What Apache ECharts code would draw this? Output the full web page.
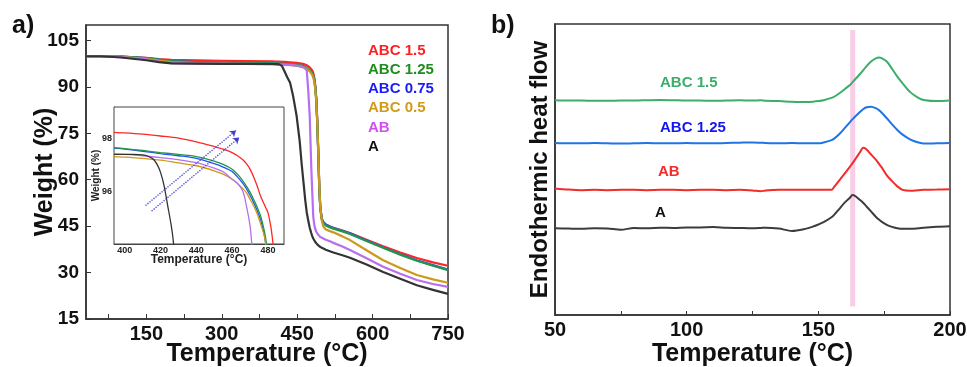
<!DOCTYPE html>
<html>
<head>
<meta charset="utf-8">
<script src="https://cdn.jsdelivr.net/npm/echarts@6.0.0/dist/echarts.min.js"></script>
<style>
  html, body { margin: 0; padding: 0; background: #fff; }
  #chart { width: 967px; height: 367px; }
</style>
</head>
<body>
<div id="chart"></div>
<script>
// ---- TGA (panel a) ----
const tgaTemp = [30, 60, 100, 150, 175, 200, 250, 300, 350, 400, 410, 415, 420, 425, 430, 436, 442, 449, 455, 459,
  463, 466, 469, 472, 475, 478, 480, 482, 484, 486, 488, 490, 492, 494, 496, 499, 502, 507, 515, 522,
  540, 555, 588, 621, 655, 688, 720, 750]
const tgaABC15 = [99.9, 99.9, 99.8, 99.4, 99.0, 98.7, 98.55, 98.45, 98.35, 98.22, 98.17, 98.14, 98.1, 98.06, 98.02, 97.95, 97.86, 97.74, 97.6, 97.5,
  97.38, 97.2, 97.0, 96.7, 96.3, 95.8, 95.3, 94.5, 93.0, 90.5, 86.5, 79, 69, 58, 51, 47.4, 46.3, 45.5, 44.9, 44.5,
  43.6, 42.8, 40.6, 38.5, 36.5, 34.7, 33.3, 32.2]
const tgaABC125 = [99.9, 99.9, 99.8, 99.3, 98.8, 98.3, 98.0, 97.85, 97.75, 97.62, 97.55, 97.51, 97.47, 97.43, 97.4, 97.35, 97.28, 97.15, 97.0, 96.86,
  96.7, 96.45, 96.1, 95.75, 95.35, 94.8, 94.3, 93.6, 92.5, 90.0, 86.0, 78.5, 68.5, 57.5, 51, 47.2, 46.0, 45.2, 44.6, 44.2,
  43.3, 42.5, 40.2, 38.0, 35.8, 33.8, 32.2, 30.8]
const tgaABC075 = [99.9, 99.9, 99.8, 99.3, 98.8, 98.3, 98.0, 97.85, 97.72, 97.6, 97.52, 97.48, 97.43, 97.39, 97.35, 97.3, 97.22, 97.07, 96.9, 96.76,
  96.6, 96.35, 96.0, 95.65, 95.25, 94.7, 94.2, 93.5, 92.3, 89.8, 85.8, 78.3, 68.3, 57.3, 51.0, 47.4, 46.3, 45.5, 44.9, 44.4,
  43.5, 42.7, 40.4, 38.1, 35.9, 34.0, 32.4, 31.0]
const tgaABC05 = [99.9, 99.9, 99.7, 99.1, 98.5, 98.0, 97.7, 97.55, 97.45, 97.3, 97.25, 97.22, 97.18, 97.13, 97.08, 97.02, 96.93, 96.76, 96.62, 96.48,
  96.3, 96.1, 95.8, 95.45, 95.0, 94.4, 93.8, 93.0, 91.6, 89.2, 85.5, 78.5, 69, 58, 51, 46.8, 44.9, 43.9, 43.4, 43.0,
  41.7, 40.5, 37.2, 34.0, 31.5, 29.2, 27.8, 26.7]
const tgaAB = [99.9, 99.9, 99.6, 98.9, 98.2, 97.7, 97.55, 97.5, 97.45, 97.4, 97.35, 97.32, 97.28, 97.24, 97.2, 97.14, 97.05, 96.9, 96.74, 96.55,
  96.35, 96.0, 95.4, 89, 80.5, 64.3, 56, 48.1, 45.5, 44.0, 43.2, 42.7, 42.2, 41.8, 41.5, 41.2, 41.0, 40.6, 40.1, 39.6,
  38.4, 37.3, 34.6, 31.9, 29.6, 27.6, 26.3, 25.4]
const tgaA = [99.9, 99.9, 99.5, 98.6, 98.0, 97.6, 97.5, 97.45, 97.42, 97.4, 97.38, 97.28, 96.7, 95.0, 93.2, 91.3, 87.0, 80.5, 72.5, 65.0,
  58.5, 53.5, 49.5, 46.8, 44.5, 42.8, 41.8, 41.0, 40.4, 39.9, 39.5, 39.1, 38.8, 38.5, 38.3, 38.0, 37.8, 37.4, 36.9, 36.5,
  35.6, 34.8, 32.6, 30.2, 28.0, 25.9, 24.4, 23.1]
const tgaXTicks = [75, 150, 225, 300, 375, 450, 525, 600, 675, 750]
const tgaXLabels = [150, 300, 450, 600, 750]
const tgaYLabels = [15, 30, 45, 60, 75, 90, 105]

// ---- inset (zoom of the onset) ----
const insetTempABC = [394, 400, 410, 420, 430, 440, 450, 455, 460, 463, 466, 468, 470, 472, 474, 476, 478, 479, 480, 481, 482, 483, 485]
const insetABC15 = [98.24, 98.22, 98.17, 98.1, 98.02, 97.88, 97.7, 97.6, 97.47, 97.35, 97.2, 97.05, 96.84, 96.55, 96.2, 95.8, 95.5, 95.35, 95.2, 94.9, 94.5, 93.9, 92.0]
const insetABC125 = [97.66, 97.62, 97.55, 97.47, 97.4, 97.32, 97.15, 97.02, 96.84, 96.65, 96.4, 96.2, 95.97, 95.7, 95.4, 95.05, 94.5, 94.1, 93.5, 92.8, 92, 91, 89]
const insetABC075 = [97.64, 97.6, 97.52, 97.43, 97.35, 97.25, 97.05, 96.92, 96.75, 96.55, 96.3, 96.1, 95.85, 95.58, 95.27, 94.9, 94.35, 93.9, 93.4, 92.7, 92, 91, 89]
const insetABC05 = [97.32, 97.3, 97.25, 97.18, 97.08, 96.97, 96.78, 96.65, 96.46, 96.3, 96.1, 95.95, 95.7, 95.45, 95.15, 94.75, 94.3, 93.9, 93.4, 92.7, 92, 91, 89]
const insetTempAB = [394, 400, 410, 420, 430, 440, 450, 455, 460, 463, 466, 468, 470, 471, 472]
const insetAB = [97.42, 97.4, 97.35, 97.28, 97.2, 97.09, 96.88, 96.74, 96.46, 96.3, 96.0, 95.45, 94.7, 94.0, 93.0]
const insetTempA = [394, 400, 405, 410, 413, 416, 418, 420, 422, 424, 426, 427, 428]
const insetA = [97.4, 97.4, 97.4, 97.38, 97.33, 97.22, 97.03, 96.72, 96.21, 95.46, 94.7, 94.2, 93.5]
const insetArrowFrom = [[411.6, 95.46], [415.0, 95.25]]
const insetArrowTo = [[462.2, 98.31], [464.0, 98.04]]
const insetXLabels = [400, 420, 440, 460, 480]
const insetYLabels = [96, 98]

// ---- DSC (panel b) ----
const dscTemp = [50, 55, 60, 65, 70, 75, 80, 85, 90, 95, 100, 105, 110, 115, 120, 125, 128, 130, 135, 140,
  145, 148, 150, 152, 155, 156, 158, 160, 162, 163, 164, 166, 167, 168, 170, 172, 173, 174, 176, 178,
  180, 182, 185, 188, 190, 195, 200]
const dscABC15 = [73.8, 73.7, 73.7, 73.6, 73.6, 73.7, 73.7, 73.8, 73.9, 73.8, 73.7, 73.7, 73.6, 73.7, 73.8, 73.7, 73.8, 73.6, 73.5, 73.3,
  73.2, 73.3, 73.5, 73.8, 74.6, 75.0, 76.2, 77.6, 79.0, 80.0, 81.0, 83.0, 84.1, 85.2, 87.1, 88.3, 88.5, 88.3, 87.1, 84.6,
  81.9, 79.6, 76.5, 74.6, 73.9, 73.5, 73.7]
const dscABC125 = [59.1, 59.0, 59.0, 59.1, 59.0, 58.9, 59.0, 59.1, 59.0, 59.0, 59.1, 59.0, 59.0, 59.1, 59.2, 59.3, 59.2, 59.1, 59.0, 59.1,
  59.0, 59.0, 59.0, 59.3, 60.1, 60.6, 62.2, 64.2, 66.3, 67.3, 68.2, 69.9, 70.7, 71.3, 71.6, 71.0, 70.4, 69.6, 67.6, 65.5,
  63.6, 62.0, 60.3, 59.3, 58.9, 59.0, 59.1]
const dscAB = [43.5, 43.1, 42.9, 43.0, 42.9, 43.0, 43.0, 42.9, 43.0, 43.0, 42.9, 43.0, 43.0, 42.9, 43.0, 42.8, 42.5, 42.8, 43.0, 43.0,
  43.0, 43.0, 43.0, 43.0, 43.0, 44.0, 46.3, 48.6, 51.0, 52.2, 53.5, 56.2, 57.5, 57.1, 55.2, 53.2, 52.0, 50.8, 48.0, 46.0,
  44.2, 43.0, 42.7, 42.9, 43.0, 43.1, 43.2]
const dscA = [29.8, 29.7, 29.6, 29.8, 29.7, 29.3, 29.9, 29.8, 30.0, 29.9, 30.1, 30.1, 30.2, 30.0, 29.9, 29.8, 29.9, 30.0, 29.7, 28.9,
  29.6, 30.4, 31.1, 31.9, 33.6, 34.4, 36.5, 38.6, 40.3, 41.2, 40.9, 39.4, 38.6, 37.6, 35.6, 33.6, 32.8, 32.1, 31.0, 30.3,
  29.8, 29.6, 29.6, 29.8, 30.0, 30.3, 30.5]
const dscBand = [162.1, 164.0]
const dscBandY = [2.9, 97.9]

const font = 'Liberation Sans, Arial, sans-serif'

const tgaStyles = [
  { name: 'ABC 1.5', y: tgaABC15, ins: insetABC15, it: insetTempABC, color: '#ff2626', text: '#ff1f1f' },
  { name: 'ABC 1.25', y: tgaABC125, ins: insetABC125, it: insetTempABC, color: '#23954a', text: '#1e8c1e' },
  { name: 'ABC 0.75', y: tgaABC075, ins: insetABC075, it: insetTempABC, color: '#1e58f0', text: '#1a1aff' },
  { name: 'ABC 0.5', y: tgaABC05, ins: insetABC05, it: insetTempABC, color: '#cc9a1a', text: '#d19a1c' },
  { name: 'AB', y: tgaAB, ins: insetAB, it: insetTempAB, color: '#b86ef0', text: '#d24ef2' },
  { name: 'A', y: tgaA, ins: insetA, it: insetTempA, color: '#333333', text: '#111111' }
]
const dscStyles = [
  { name: 'ABC 1.5', y: dscABC15, color: '#3aae6a', text: '#3aae6a', lx: 660, ly: 83 },
  { name: 'ABC 1.25', y: dscABC125, color: '#1f74e6', text: '#1515f0', lx: 660, ly: 128 },
  { name: 'AB', y: dscAB, color: '#f22b2b', text: '#f22b2b', lx: 658, ly: 172 },
  { name: 'A', y: dscA, color: '#3c3c3c', text: '#111111', lx: 655, ly: 213 }
]

function pairs(xs, ys) {
  return xs.map((x, i) => [x, ys[i]])
}

const drawOrder = [0, 2, 1, 3, 4, 5]
const series = []

drawOrder.forEach(i => {
  const s = tgaStyles[i]
  series.push({
    type: 'line', xAxisIndex: 0, yAxisIndex: 0, showSymbol: false,
    smooth: false, z: 3,
    data: pairs(tgaTemp, s.y),
    lineStyle: { color: s.color, width: 2.2, join: 'round' }
  })
  series.push({
    type: 'line', xAxisIndex: 1, yAxisIndex: 1, showSymbol: false,
    smooth: 0.3, z: 4,
    data: pairs(s.it, s.ins),
    lineStyle: { color: s.color, width: 1.3 }
  })
})

// dotted arrows in the inset
series.push({
  type: 'line', xAxisIndex: 1, yAxisIndex: 1, data: [], z: 5,
  markLine: {
    silent: true,
    symbol: ['none', 'arrow'],
    symbolSize: 6,
    label: { show: false },
    lineStyle: { type: 'dotted', color: '#3f3fd0', width: 1.3 },
    data: insetArrowFrom.map((p, i) => [{ coord: p }, { coord: insetArrowTo[i] }])
  }
})

// pink band in the DSC panel
series.push({
  type: 'line', xAxisIndex: 2, yAxisIndex: 2, data: [], z: 1,
  markArea: {
    silent: true,
    itemStyle: { color: '#f9cde6', opacity: 1 },
    data: [[{ coord: [dscBand[0], dscBandY[0]] }, { coord: [dscBand[1], dscBandY[1]] }]]
  }
})

dscStyles.forEach(s => {
  series.push({
    type: 'line', xAxisIndex: 2, yAxisIndex: 2, showSymbol: false,
    smooth: 0.3, z: 3,
    data: pairs(dscTemp, s.y),
    lineStyle: { color: s.color, width: 2 }
  })
})

const graphic = [
  { type: 'text', left: 12, top: 14, style: { text: 'a)', font: 'bold 25px ' + font, fill: '#111' } },
  { type: 'text', left: 491, top: 14, style: { text: 'b)', font: 'bold 25px ' + font, fill: '#111' } }
]
tgaStyles.forEach((s, i) => {
  graphic.push({
    type: 'text', x: 368, y: 50.7 + i * 19.2,
    style: { text: s.name, font: 'bold 15px ' + font, fill: s.text, verticalAlign: 'middle' }
  })
})
dscStyles.forEach(s => {
  graphic.push({
    type: 'text', x: s.lx, y: s.ly,
    style: { text: s.name, font: 'bold 15px ' + font, fill: s.text, verticalAlign: 'middle' }
  })
})

const axisLine = { show: true, lineStyle: { color: '#333', width: 1.5 } }
const bigLabel = { fontSize: 20, fontWeight: 'bold', color: '#111', fontFamily: font }
const bigName = { fontSize: 25, fontWeight: 'bold', color: '#111', fontFamily: font }
const smallLabel = { fontSize: 9, fontWeight: 'bold', color: '#222', fontFamily: font }

const option = {
  animation: false,
  backgroundColor: '#fff',
  grid: [
    { left: 86, top: 25, width: 362, height: 294, show: true, borderColor: '#333', borderWidth: 1.5, outerBoundsMode: 'none' },
    { left: 114, top: 107, width: 170, height: 137, show: true, borderColor: '#444', borderWidth: 1, backgroundColor: '#fff', z: 2, outerBoundsMode: 'none' },
    { left: 555, top: 24, width: 395, height: 291, show: true, borderColor: '#333', borderWidth: 1.5, outerBoundsMode: 'none' }
  ],
  xAxis: [
    {
      gridIndex: 0, type: 'value', min: 30, max: 750,
      axisLine,
      axisTick: { inside: true, length: 5, customValues: tgaXTicks, lineStyle: { color: '#333' } },
      axisLabel: { ...bigLabel, margin: 5, customValues: tgaXLabels },
      splitLine: { show: false },
      name: 'Temperature (°C)', nameLocation: 'middle', nameGap: 23, nameMoveOverlap: false, nameTextStyle: bigName
    },
    {
      gridIndex: 1, type: 'value', min: 394, max: 489,
      axisLine: { show: true, lineStyle: { color: '#444', width: 1 } },
      axisTick: { inside: true, length: 3, customValues: [400, 410, 420, 430, 440, 450, 460, 470, 480], lineStyle: { color: '#444' } },
      axisLabel: { ...smallLabel, margin: 2, customValues: insetXLabels },
      splitLine: { show: false },
      name: 'Temperature (°C)', nameLocation: 'middle', nameGap: 10, nameMoveOverlap: false,
      nameTextStyle: { fontSize: 12, fontWeight: 'bold', color: '#222', fontFamily: font }
    },
    {
      gridIndex: 2, type: 'value', min: 50, max: 200, interval: 50,
      axisLine,
      axisTick: { inside: true, length: 4, lineStyle: { color: '#333' } },
      minorTick: { show: true, splitNumber: 2, length: 4, lineStyle: { color: '#333' } },
      axisLabel: { ...bigLabel, margin: 5 },
      splitLine: { show: false },
      name: 'Temperature (°C)', nameLocation: 'middle', nameGap: 27, nameMoveOverlap: false, nameTextStyle: bigName
    }
  ],
  yAxis: [
    {
      gridIndex: 0, type: 'value', min: 15, max: 110,
      axisLine,
      axisTick: { inside: true, length: 5, customValues: tgaYLabels, lineStyle: { color: '#333' } },
      axisLabel: { fontSize: 19, fontWeight: 'bold', color: '#111', fontFamily: font, margin: 7, customValues: tgaYLabels },
      splitLine: { show: false },
      name: 'Weight (%)', nameLocation: 'middle', nameGap: 28, nameMoveOverlap: false, nameTextStyle: bigName
    },
    {
      gridIndex: 1, type: 'value', min: 94, max: 99.2,
      axisLine: { show: true, lineStyle: { color: '#444', width: 1 } },
      axisTick: { inside: true, length: 3, customValues: [95, 96, 97, 98, 99], lineStyle: { color: '#444' } },
      axisLabel: { ...smallLabel, margin: 2, customValues: insetYLabels },
      splitLine: { show: false },
      name: 'Weight (%)', nameLocation: 'middle', nameGap: 13, nameMoveOverlap: false,
      nameTextStyle: { fontSize: 10, fontWeight: 'bold', color: '#222', fontFamily: font }
    },
    {
      gridIndex: 2, type: 'value', min: 0, max: 100,
      axisLine,
      axisTick: { show: false },
      axisLabel: { show: false },
      splitLine: { show: false },
      name: 'Endothermic heat flow', nameLocation: 'middle', nameGap: 3, nameMoveOverlap: false,
      nameTextStyle: { fontSize: 24, fontWeight: 'bold', color: '#111', fontFamily: font }
    }
  ],
  graphic,
  series
}

const chart = echarts.init(document.getElementById('chart'), null, { renderer: 'canvas' })
chart.setOption(option)
</script>
</body>
</html>
